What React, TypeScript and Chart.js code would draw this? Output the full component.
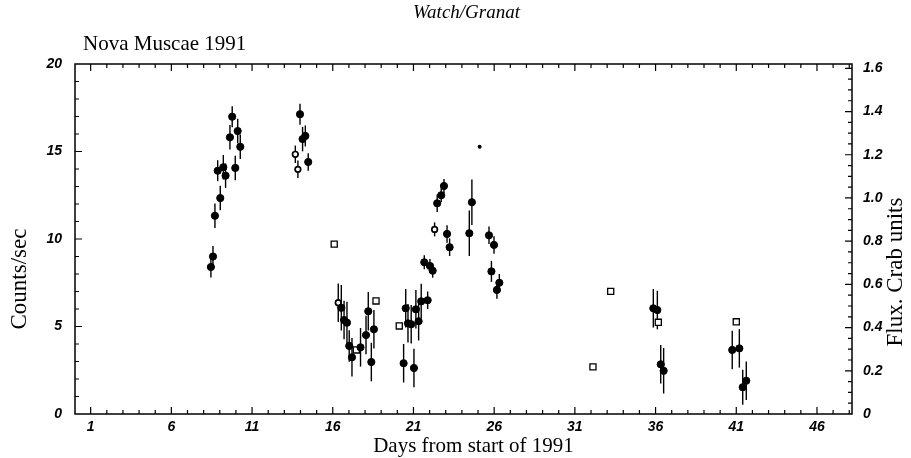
import React, { useEffect, useRef } from "react";
import { Chart, registerables } from "chart.js";

Chart.register(...registerables);

// ---- data (days from start of 1991, counts/sec, 1-sigma errors) ----
const filledDays = [
  8.45, 8.58, 8.7, 8.87, 9.03, 9.22, 9.36, 9.63, 9.77, 9.96, 10.11, 10.27,
  13.97, 14.13, 14.3, 14.48,
  16.53, 16.7, 16.88, 17.02, 17.19, 17.72, 18.06, 18.2, 18.39, 18.55,
  20.39, 20.52, 20.66, 20.86, 21.03, 21.15, 21.32, 21.48, 21.67, 21.88, 22.02, 22.19,
  22.47, 22.72, 22.89, 23.08, 23.24, 24.46, 24.62,
  25.68, 25.83, 25.99, 26.17, 26.32,
  35.86, 36.11, 36.32, 36.5,
  40.75, 41.19, 41.4, 41.62,
];
const filledCounts = [
  8.4, 9.0, 11.33, 13.9, 12.34, 14.1, 13.62, 15.81, 16.99, 14.06, 16.17, 15.27,
  17.13, 15.71, 15.89, 14.4,
  6.07, 5.37, 5.22, 3.89, 3.24, 3.81, 4.51, 5.87, 2.97, 4.84,
  2.9, 6.04, 5.18, 5.13, 2.63, 5.98, 5.3, 6.44, 8.67, 6.5, 8.46, 8.19,
  12.04, 12.5, 13.03, 10.29, 9.53, 10.33, 12.1,
  10.21, 8.15, 9.66, 7.09, 7.5,
  6.04, 5.94, 2.84, 2.47,
  3.66, 3.75, 1.53, 1.9,
];
const filledErrors = [
  0.6, 0.6, 0.7, 0.6, 0.7, 0.7, 0.7, 0.7, 0.6, 0.7, 0.7, 0.7,
  0.6, 0.7, 0.6, 0.5,
  1.3, 1.1, 1.2, 0.9, 1.1, 1.1, 1.1, 1.1, 1.1, 1.1,
  1.1, 1.1, 1.1, 1.1, 1.1, 1.1, 1.1, 1.0, 0.4, 0.5, 0.4, 0.4,
  0.5, 0.4, 0.4, 0.5, 0.5, 1.3, 1.3,
  0.5, 0.6, 0.5, 0.5, 0.5,
  1.1, 1.1, 1.1, 1.3,
  1.1, 1.1, 1.0, 1.1,
];
const openDays = [13.68, 13.84, 16.34, 22.31];
const openCounts = [14.84, 13.98, 6.36, 10.55];
const openErrors = [0.5, 0.5, 1.1, 0.4];
const squareDays = [16.09, 17.46, 18.68, 20.12, 32.12, 33.22, 36.17, 41.0];
const squareCounts = [9.71, 3.66, 6.46, 5.03, 2.69, 7.01, 5.24, 5.27];
const dotDays = [25.1];
const dotCounts = [15.27];

const xTickDays = [1, 6, 11, 16, 21, 26, 31, 36, 41, 46];
const countTicks = [0, 5, 10, 15, 20];
const fluxTicks = [0, 0.2, 0.4, 0.6, 0.8, 1.0, 1.2, 1.4, 1.6];

const X_MIN = 0.03;
const X_MAX = 48.17;
const Y_MAX = 20;
const FLUX_MAX = 1.62;

const tickFont = { family: "'Liberation Sans', Arial, sans-serif", size: 14, weight: "bold" as const, style: "italic" as const };

const errorBarPlugin = {
  id: "errorBars",
  beforeDatasetsDraw(chart: any) {
    const ctx = chart.ctx;
    const yScale = chart.scales.y;
    ctx.save();
    ctx.strokeStyle = "#000";
    ctx.lineWidth = 1.4;
    chart.data.datasets.forEach((ds: any, i: number) => {
      if (!ds.errors) return;
      const meta = chart.getDatasetMeta(i);
      meta.data.forEach((pt: any, j: number) => {
        const v = ds.data[j].y;
        const e = ds.errors[j];
        ctx.beginPath();
        ctx.moveTo(pt.x, yScale.getPixelForValue(v - e));
        ctx.lineTo(pt.x, yScale.getPixelForValue(v + e));
        ctx.stroke();
      });
    });
    ctx.restore();
  },
};

const frameAndTextPlugin = {
  id: "frameText",
  afterDraw(chart: any) {
    const ctx = chart.ctx;
    const { left, right, top, bottom } = chart.chartArea;
    const xs = chart.scales.x;
    const ys = chart.scales.y;
    const y2 = chart.scales.y2;
    ctx.save();
    ctx.strokeStyle = "#000";
    ctx.lineWidth = 1.5;
    ctx.strokeRect(left, top, right - left, bottom - top);
    ctx.lineWidth = 1.2;
    ctx.beginPath();
    for (let d = 1; d <= 48; d++) {
      const px = xs.getPixelForValue(d);
      const len = (d - 1) % 5 === 0 ? 7 : 4;
      ctx.moveTo(px, bottom);
      ctx.lineTo(px, bottom - len);
      ctx.moveTo(px, top);
      ctx.lineTo(px, top + len);
    }
    for (let c = 1; c < 20; c++) {
      const py = ys.getPixelForValue(c);
      const len = c % 5 === 0 ? 7 : 4;
      ctx.moveTo(left, py);
      ctx.lineTo(left + len, py);
    }
    for (let k = 1; k <= 32; k++) {
      const f = k * 0.05;
      if (f >= FLUX_MAX) break;
      const py = y2.getPixelForValue(f);
      const len = k % 4 === 0 ? 7 : 4;
      ctx.moveTo(right, py);
      ctx.lineTo(right - len, py);
    }
    ctx.stroke();

    ctx.fillStyle = "#000";
    ctx.textBaseline = "middle";
    ctx.textAlign = "center";
    ctx.font = "italic 19px 'Liberation Serif', serif";
    ctx.fillText("Watch/Granat", (left + right) / 2 + 3, 13);
    ctx.textAlign = "left";
    ctx.font = "21px 'Liberation Serif', serif";
    ctx.fillText("Nova Muscae 1991", 83, 44);
    ctx.font = "21px 'Liberation Serif', serif";
    ctx.textAlign = "center";
    ctx.fillText("Days from start of 1991", (left + right) / 2 + 10, 446);
    ctx.font = "23px 'Liberation Serif', serif";
    ctx.save();
    ctx.translate(20, 279);
    ctx.rotate(-Math.PI / 2);
    ctx.fillText("Counts/sec", 0, 0);
    ctx.restore();
    ctx.save();
    ctx.translate(896, 272);
    ctx.rotate(-Math.PI / 2);
    ctx.fillText("Flux. Crab units", 0, 0);
    ctx.restore();
    ctx.restore();
  },
};

function toPoints(xs: number[], ys: number[]) {
  return xs.map((x, i) => ({ x, y: ys[i] }));
}

export default function App() {
  const canvasRef = useRef<HTMLCanvasElement | null>(null);

  useEffect(() => {
    if (!canvasRef.current) return;
    const chart = new Chart(canvasRef.current, {
      type: "scatter",
      data: {
        datasets: [
          {
            label: "filled",
            data: toPoints(filledDays, filledCounts),
            errors: filledErrors,
            pointStyle: "circle",
            pointRadius: 3.6,
            backgroundColor: "#000",
            borderColor: "#000",
            borderWidth: 1,
          } as any,
          {
            label: "open",
            data: toPoints(openDays, openCounts),
            errors: openErrors,
            pointStyle: "circle",
            pointRadius: 2.8,
            backgroundColor: "#fff",
            borderColor: "#000",
            borderWidth: 1.7,
          } as any,
          {
            label: "square",
            data: toPoints(squareDays, squareCounts),
            pointStyle: "rect",
            pointRadius: 4.3,
            backgroundColor: "#fff",
            borderColor: "#000",
            borderWidth: 1.3,
          } as any,
          {
            label: "dot",
            data: toPoints(dotDays, dotCounts),
            pointStyle: "circle",
            pointRadius: 2,
            backgroundColor: "#000",
            borderColor: "#000",
            borderWidth: 0,
          } as any,
        ],
      },
      options: {
        responsive: false,
        animation: false,
        devicePixelRatio: 1,
        layout: { padding: { top: 64, left: 0, right: 0, bottom: 0 } },
        plugins: {
          legend: { display: false },
          tooltip: { enabled: false },
          title: { display: false },
        },
        scales: {
          x: {
            type: "linear",
            min: X_MIN,
            max: X_MAX,
            grid: { display: false, drawTicks: false },
            border: { display: false },
            afterBuildTicks: (s: any) => {
              s.ticks = xTickDays.map((v) => ({ value: v }));
            },
            afterFit: (s: any) => {
              s.height = 44;
            },
            ticks: {
              color: "#000",
              font: tickFont,
              padding: 5,
              maxRotation: 0,
              autoSkip: false,
              callback: (v: any) => String(v),
            },
          },
          y: {
            type: "linear",
            position: "left",
            min: 0,
            max: Y_MAX,
            grid: { display: false, drawTicks: false },
            border: { display: false },
            afterBuildTicks: (s: any) => {
              s.ticks = countTicks.map((v) => ({ value: v }));
            },
            afterFit: (s: any) => {
              s.width = 75;
            },
            ticks: {
              color: "#000",
              font: tickFont,
              padding: 13,
              callback: (v: any) => String(v),
            },
          },
          y2: {
            type: "linear",
            position: "right",
            min: 0,
            max: FLUX_MAX,
            grid: { display: false, drawTicks: false },
            border: { display: false },
            afterBuildTicks: (s: any) => {
              s.ticks = fluxTicks.map((v) => ({ value: v }));
            },
            afterFit: (s: any) => {
              s.width = 59;
            },
            ticks: {
              color: "#000",
              font: tickFont,
              padding: 11,
              callback: (v: any) => (v === 0 ? "0" : Number(v).toFixed(1)),
            },
          },
        },
      } as any,
      plugins: [errorBarPlugin, frameAndTextPlugin],
    });
    return () => chart.destroy();
  }, []);

  return (
    <div style={{ position: "absolute", left: 0, top: 0, width: 911, height: 458, background: "#fff" }}>
      <canvas ref={canvasRef} width={911} height={458} style={{ display: "block", width: 911, height: 458 }} />
    </div>
  );
}
